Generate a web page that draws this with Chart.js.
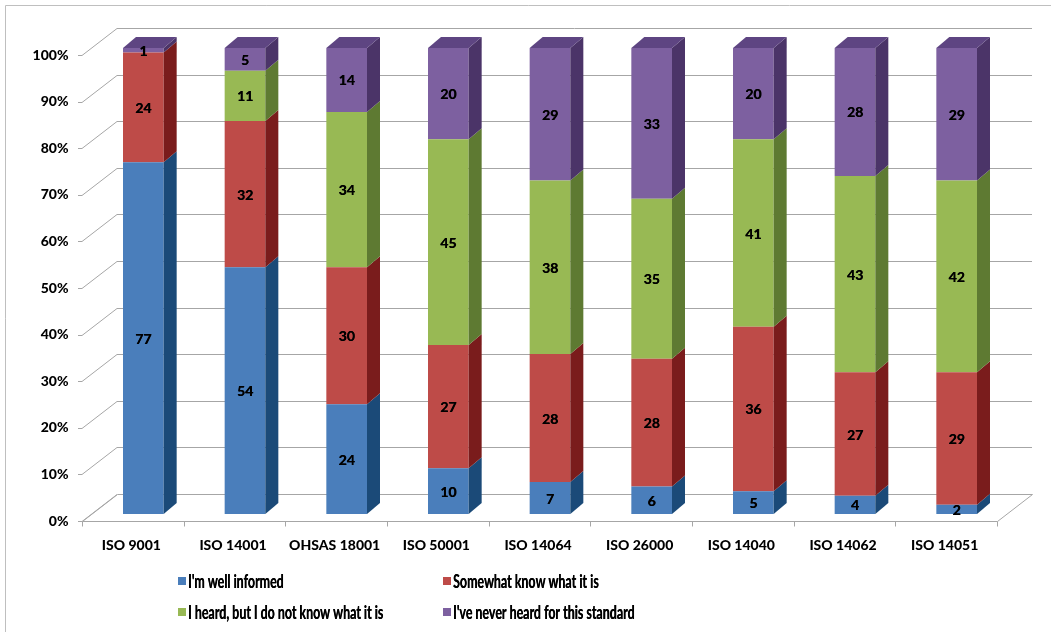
<!DOCTYPE html>
<html>
<head>
<meta charset="utf-8">
<script src="https://cdn.jsdelivr.net/npm/chart.js@4"></script>
<style>
  html, body { margin: 0; padding: 0; background: #fff; }
  #wrap { width: 1051px; height: 632px; position: relative; }
</style>
</head>
<body>
<div id="wrap"><canvas id="chart" width="1051" height="632"></canvas></div>
<script>
const standards = ['ISO 9001', 'ISO 14001', 'OHSAS 18001', 'ISO 50001', 'ISO 14064', 'ISO 26000', 'ISO 14040', 'ISO 14062', 'ISO 14051'];

const wellInformed = [77, 54, 24, 10, 7, 6, 5, 4, 2];
const somewhatKnow = [24, 32, 30, 27, 28, 28, 36, 27, 29];
const heardOnly    = [0, 11, 34, 45, 38, 35, 41, 43, 42];
const neverHeard   = [1, 5, 14, 20, 29, 33, 20, 28, 29];

const seriesNames = ["I'm well informed", 'Somewhat know what it is', 'I heard, but I do not know what it is', "I've never heard for this standard"];
const yTicks = [0, 10, 20, 30, 40, 50, 60, 70, 80, 90, 100];

// front / side / top shades per series
const fronts = ['#4a7ebb', '#be4b48', '#98b954', '#7d60a0'];
const sides  = ['#1b4a78', '#7a1c1c', '#5e7a32', '#4b3468'];
const tops   = ['#3b6aa3', '#a33b39', '#7f9b45', '#5e4582'];

const raw = [wellInformed, somewhatKnow, heardOnly, neverHeard];
const totals = standards.map((_, i) => raw.reduce((s, arr) => s + arr[i], 0));
const pct = arr => arr.map((v, i) => v / totals[i] * 100);

const FONT = 'Lato, "Open Sans", sans-serif';
const DX = 13, DY = 11;          // bar depth
const WALL_DX = 35;              // floor / side wall depth
const BACK_OFF = -20, FRONT_OFF = 7;
const GRID = '#a6a6a6';

function line(ctx, x1, y1, x2, y2) {
  ctx.beginPath();
  ctx.moveTo(x1, y1);
  ctx.lineTo(x2, y2);
  ctx.stroke();
}

// bold text drawn twice with a tiny shift, a bit heavier than plain bold
function heavyText(ctx, s, x, y) {
  ctx.fillText(s, x, y);
  ctx.fillText(s, x + 0.4, y);
}

const walls = {
  id: 'walls',
  beforeDatasetsDraw(chart) {
    const ctx = chart.ctx, x = chart.scales.x, y = chart.scales.y;
    const fl = Math.round(x.left - 10.5), fr = Math.round(x.right - 10.5);
    ctx.save();
    ctx.strokeStyle = GRID;
    ctx.lineWidth = 1;
    yTicks.forEach(v => {
      const p = Math.round(y.getPixelForValue(v));
      const yb = p + BACK_OFF + 0.5, yf = p + FRONT_OFF + 0.5;
      line(ctx, fl - 4, yf, fl, yf);
      line(ctx, fl, yf, fl + WALL_DX, yb);
      if (v > 0) line(ctx, fl + WALL_DX, yb, fr + WALL_DX, yb);
    });
    // floor
    const y0 = Math.round(y.getPixelForValue(0));
    const fb = y0 + BACK_OFF + 0.5, ff = y0 + FRONT_OFF + 0.5;
    ctx.beginPath();
    ctx.moveTo(fl + 0.5, ff);
    ctx.lineTo(fr + 0.5, ff);
    ctx.lineTo(fr + WALL_DX + 0.5, fb);
    ctx.lineTo(fl + WALL_DX + 0.5, fb);
    ctx.closePath();
    ctx.stroke();
    const step = (fr - fl) / standards.length;
    for (let i = 0; i <= standards.length; i++) {
      const tx = Math.round(fl + i * step) + 0.5;
      line(ctx, tx, ff, tx, ff + 5);
    }
    // outer frame
    ctx.strokeStyle = '#bfbfbf';
    line(ctx, 5.5, 632, 5.5, 5.5);
    line(ctx, 5.5, 5.5, 1051, 5.5);
    ctx.restore();
  },
  afterDatasetsDraw(chart) {
    const ctx = chart.ctx;
    ctx.save();
    const topIdx = standards.map((_, i) => {
      let t = -1;
      raw.forEach((arr, d) => { if (arr[i] > 0) t = d; });
      return t;
    });
    chart.data.datasets.forEach((ds, d) => {
      chart.getDatasetMeta(d).data.forEach((bar, i) => {
        if (raw[d][i] <= 0) return;
        const xr = bar.x + bar.width / 2, xl = bar.x - bar.width / 2;
        ctx.fillStyle = sides[d];
        ctx.beginPath();
        ctx.moveTo(xr, bar.y);
        ctx.lineTo(xr + DX, bar.y - DY);
        ctx.lineTo(xr + DX, bar.base - DY);
        ctx.lineTo(xr, bar.base);
        ctx.closePath();
        ctx.fill();
        if (topIdx[i] === d) {
          ctx.fillStyle = tops[d];
          ctx.beginPath();
          ctx.moveTo(xl, bar.y);
          ctx.lineTo(xl + DX, bar.y - DY);
          ctx.lineTo(xr + DX, bar.y - DY);
          ctx.lineTo(xr, bar.y);
          ctx.closePath();
          ctx.fill();
        }
      });
    });
    // value labels
    ctx.fillStyle = '#000';
    ctx.font = 'bold 14px ' + FONT;
    ctx.textAlign = 'center';
    ctx.textBaseline = 'middle';
    chart.data.datasets.forEach((ds, d) => {
      chart.getDatasetMeta(d).data.forEach((bar, i) => {
        const v = raw[d][i];
        if (v <= 0) return;
        heavyText(ctx, String(v), bar.x, (bar.y + bar.base) / 2 + 1);
      });
    });
    ctx.restore();
  },
  afterDraw(chart) {
    // two-column legend under the plot
    const ctx = chart.ctx;
    const spots = [[178, 581], [443, 581], [178, 612], [443, 612]];
    ctx.save();
    ctx.font = 'bold 18px ' + FONT;
    ctx.textBaseline = 'middle';
    ctx.textAlign = 'left';
    seriesNames.forEach((name, k) => {
      const [sx, sy] = spots[k];
      ctx.fillStyle = fronts[k];
      ctx.fillRect(sx, sy - 4, 8, 8);
      ctx.save();
      ctx.translate(sx + 10, sy);
      ctx.scale(0.69, 1);
      ctx.fillStyle = '#000';
      heavyText(ctx, name, 0, 1);
      ctx.restore();
    });
    ctx.restore();
  }
};

new Chart(document.getElementById('chart'), {
  type: 'bar',
  data: {
    labels: standards,
    datasets: raw.map((arr, d) => ({
      label: seriesNames[d],
      data: pct(arr),
      backgroundColor: fronts[d],
      borderWidth: 0,
      barPercentage: 0.4,
      categoryPercentage: 1
    }))
  },
  options: {
    responsive: false,
    animation: false,
    layout: { padding: { top: 48, right: 43.5, left: 0, bottom: 0 } },
    plugins: { legend: { display: false }, tooltip: { enabled: false } },
    scales: {
      x: {
        stacked: true,
        grid: { display: false, drawTicks: false },
        border: { display: false },
        ticks: { color: '#000', font: { family: FONT, size: 14, weight: '900' }, padding: 23, labelOffset: -12, maxRotation: 0, autoSkip: false },
        afterFit(s) { s.height = 118; }
      },
      y: {
        stacked: true,
        min: 0,
        max: 100,
        grid: { display: false, drawTicks: false },
        border: { display: false },
        ticks: {
          stepSize: 10,
          color: '#000',
          font: { family: FONT, size: 14, weight: '900' },
          padding: 24,
          labelOffset: 7,
          callback: v => v + '%'
        },
        afterFit(s) { s.width = 92.5; }
      }
    }
  },
  plugins: [walls]
});
</script>
</body>
</html>
